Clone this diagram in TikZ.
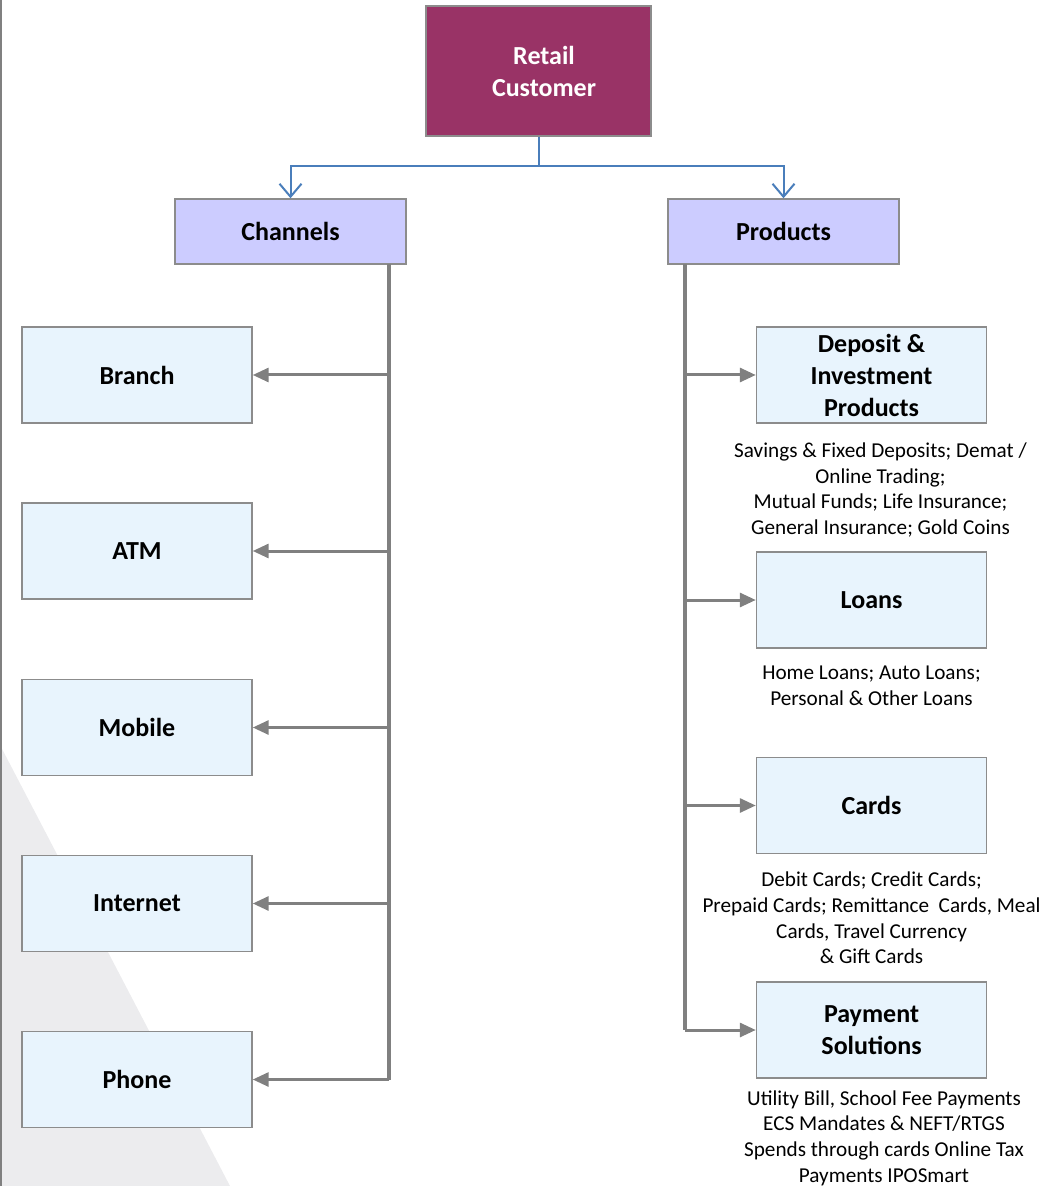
\documentclass[tikz,border=0pt]{standalone}
\usepackage{fontspec}
\setmainfont{Carlito}
\usetikzlibrary{arrows.meta, positioning}

\definecolor{retailred}{RGB}{153,51,102}
\definecolor{headblue}{RGB}{204,204,255}
\definecolor{leafblue}{RGB}{232,244,253}
\definecolor{linkgray}{RGB}{128,128,128}
\definecolor{framegray}{RGB}{140,140,140}
\definecolor{linkblue}{RGB}{74,126,187}
\definecolor{shadegray}{RGB}{236,236,238}

\tikzset{
    box/.style={draw=framegray, line width=0.7pt, align=center, inner sep=2pt,
        font=\fontsize{13}{16}\selectfont\bfseries},
    rootbox/.style={box, fill=retailred, text=white, minimum width=112.5pt, minimum height=65pt},
    headbox/.style={box, fill=headblue, minimum width=115.5pt, minimum height=32.5pt},
    leafbox/.style={box, fill=leafblue, minimum width=115pt, minimum height=48pt},
    desc/.style={align=center, inner sep=0pt, font=\fontsize{10.6}{12.8}\selectfont},
    bluelink/.style={draw=linkblue, line width=1pt, -{Straight Barb[length=6.5pt, width=11pt, line width=1pt]}},
    trunk/.style={draw=linkgray, line width=1.7pt},
    graylink/.style={draw=linkgray, line width=1.5pt, -{Triangle[length=8pt, width=7pt]}}
}

\begin{document}
\begin{tikzpicture}[x=0.5pt, y=-0.5pt]
    \useasboundingbox (0,0) rectangle (1061,1186);

    % Backdrop
    \fill[shadegray] (0,745) -- (230,1186) -- (0,1186) -- cycle;
    \draw[linkgray, line width=1pt] (1,0) -- (1,1186);

    % Root and the two heads
    \node[rootbox] (retail) at (538.5,71) {\hspace*{5.5pt}Retail\\\hspace*{5.5pt}Customer};
    \node[headbox] (chan) at (290.5,231.5) {Channels};
    \node[headbox] (prod) at (783.5,231.5) {Products};

    \coordinate (split) at (539,166);
    \draw[draw=linkblue, line width=1pt] (retail.south -| split) -- (split);
    \draw[bluelink] (split) -| (chan.north);
    \draw[bluelink] (split) -| (prod.north);

    % Channels
    \node[leafbox] (branch) at (137,375) {Branch};
    \node[leafbox] (atm) at (137,551) {ATM};
    \node[leafbox] (mobile) at (137,727.5) {Mobile};
    \node[leafbox] (internet) at (137,903.5) {Internet};
    \node[leafbox] (phone) at (137,1079.5) {Phone};

    \coordinate (ctop) at (389,264);
    \draw[trunk] (ctop) -- (ctop |- phone.east);
    \foreach \n in {branch, atm, mobile, internet, phone}
        \draw[graylink] (ctop |- \n.east) -- (\n.east);

    % Products
    \node[leafbox] (deposit) at (871.5,375) {Deposit \&\\Investment\\Products};
    \node[leafbox] (loans) at (871.5,600) {Loans};
    \node[leafbox] (cards) at (871.5,805.5) {Cards};
    \node[leafbox] (payment) at (871.5,1030) {Payment\\Solutions};

    \coordinate (ptop) at (685,264);
    \draw[trunk] (ptop) -- (ptop |- payment.west);
    \foreach \n in {deposit, loans, cards, payment}
        \draw[graylink] (ptop |- \n.west) -- (\n.west);

    % Descriptions
    \node[desc] (depositnote) at (880.5,490) {Savings \& Fixed Deposits; Demat /\\Online Trading;\\Mutual Funds; Life Insurance;\\General Insurance; Gold Coins};
    \node[desc] (loansnote) at (871.5,686) {Home Loans; Auto Loans;\\Personal \& Other Loans};
    \node[desc] (cardsnote) at (871.5,918) {Debit Cards; Credit Cards;\\Prepaid Cards; Remittance\ \ Cards, Meal\\Cards, Travel Currency\\\& Gift Cards};
    \node[desc] (paymentnote) at (884,1138) {Utility Bill, School Fee Payments\\ECS Mandates \& NEFT/RTGS\\Spends through cards Online Tax\\Payments IPOSmart};
\end{tikzpicture}
\end{document}
